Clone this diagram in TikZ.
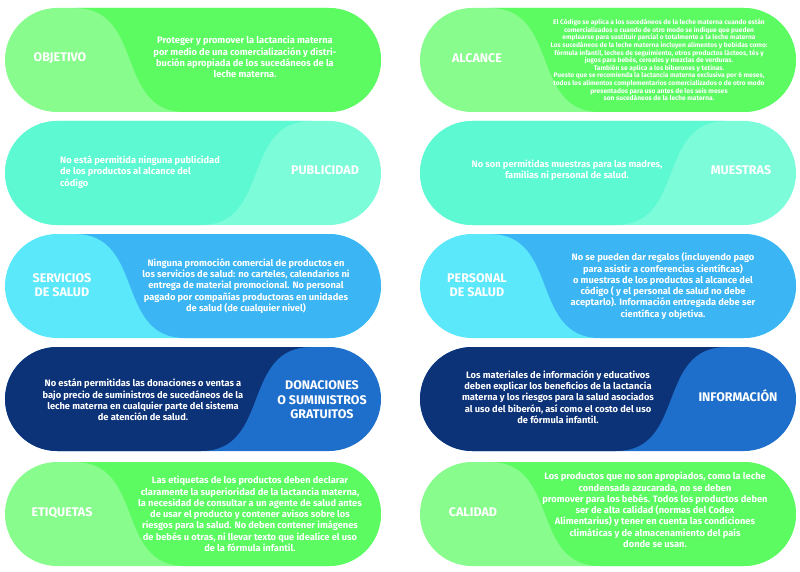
\documentclass[tikz,border=0pt]{standalone}
\usepackage{fontspec}
\setmainfont{Fira Sans}
\begin{document}
\begin{tikzpicture}[x=1pt,y=-1pt,
  lbl/.style={text=white,font=\fontsize{12.5}{14.5}\selectfont\bfseries,align=center},
  body/.style={text=white,font=\fontsize{9.3}{11.3}\selectfont\bfseries,align=center},
  tiny/.style={text=white,font=\fontsize{6.6}{7.6}\selectfont\bfseries,align=center}]
\useasboundingbox (0,0) rectangle (800,572);
\def\pillL#1#2#3#4{%
  \fill[#3,rounded corners=52pt] (#1,#2) rectangle ++(376,104);
  \fill[#4] (#1+70,#2) .. controls (#1+140,#2) and (#1+110,#2+104) .. (#1+180,#2+104)
     -- (#1+324,#2+104) arc[start angle=90,end angle=-90,radius=52] -- cycle;}
\def\pillR#1#2#3#4{%
  \fill[#3,rounded corners=52pt] (#1,#2) rectangle ++(376,104);
  \fill[#4] (#1+306,#2) .. controls (#1+236,#2) and (#1+266,#2+104) .. (#1+196,#2+104)
     -- (#1+52,#2+104) arc[start angle=90,end angle=270,radius=52] -- cycle;}
\definecolor{gL}{HTML}{88FC8C}\definecolor{gD}{HTML}{5CFB62}
\definecolor{tL}{HTML}{7DFCDA}\definecolor{tD}{HTML}{5DF9D2}
\definecolor{bL}{HTML}{5BE8FA}\definecolor{bD}{HTML}{3BB5F3}
\definecolor{nL}{HTML}{1E6FCB}\definecolor{nD}{HTML}{0C3277}
% row 1
\pillL{5}{8}{gL}{gD}
\pillL{420}{8}{gL}{gD}
\node[lbl] (l1) at (60,58) {OBJETIVO};
\node[body] (b1) at (245,57) {Proteger y promover la lactancia materna\\por medio de una comercialización y distri-\\bución apropiada de los sucedáneos de la\\leche materna.};
\node[lbl] (l2) at (477,58) {ALCANCE};
\node[tiny] (b2) at (659,60) {El Código se aplica a los sucedáneos de la leche materna cuando están\\comercializados o cuando de otro modo se indique que pueden\\emplearse para sustituir parcial o totalmente a la leche materna\\Los sucedáneos de la leche materna incluyen alimentos y bebidas como:\\fórmula infantil,  leches de seguimiento, otros productos lácteos, tés y\\jugos para bebés, cereales y mezclas de verduras.\\También se aplica a los biberones y tetinas.\\Puesto que se recomienda la lactancia materna exclusiva por 6 meses,\\todos los alimentos complementarios comercializados o de otro modo\\presentados para uso antes de los seis meses\\son sucedáneos de la leche materna.};
% row 2
\pillR{5}{121}{tL}{tD}
\pillR{420}{121}{tL}{tD}
\node[lbl] (l3) at (325,170) {PUBLICIDAD};
\node[body,align=left] (b3) at (140,172) {No está permitida ninguna publicidad\\de los productos al alcance del\\código};
\node[lbl] (l4) at (741,170) {MUESTRAS};
\node[body] (b4) at (567,170) {No son permitidas muestras para las madres,\\familias ni personal de salud.};
% row 3
\pillL{5}{234}{bL}{bD}
\pillL{420}{234}{bL}{bD}
\node[lbl] (l5) at (62,285) {SERVICIOS\\DE SALUD};
\node[body] (b5) at (246,286) {Ninguna promoción comercial de productos en\\los servicios de salud: no carteles, calendarios ni\\entrega de material promocional. No personal\\pagado por compañías productoras en unidades\\de salud (de cualquier nivel)};
\node[lbl] (l6) at (477,285) {PERSONAL\\DE SALUD};
\node[body] (b6) at (663,286) {No se pueden dar regalos (incluyendo pago\\para asistir a conferencias científicas)\\o muestras de los productos al alcance del\\código ( y el personal de salud no debe\\aceptarlo). Información entregada debe ser\\científica y objetiva.};
% row 4
\pillR{5}{347}{nL}{nD}
\pillR{420}{347}{nL}{nD}
\node[lbl] (l7) at (322,400) {DONACIONES\\O SUMINISTROS\\GRATUITOS};
\node[body] (b7) at (143,400) {No están permitidas las donaciones o ventas a\\bajo precio de suministros de sucedáneos de la\\leche materna en cualquier parte del sistema\\de atención de salud.};
\node[lbl] (l8) at (738,396) {INFORMACIÓN};
\node[body] (b8) at (558,397) {Los materiales de información y educativos\\deben explicar los beneficios de la lactancia\\materna y los riesgos para la salud asociados\\al uso del biberón, así como el costo del uso\\de fórmula infantil.};
% row 5
\pillL{5}{462}{gL}{gD}
\pillL{420}{462}{gL}{gD}
\node[lbl] (l9) at (62,513) {ETIQUETAS};
\node[body] (b9) at (250,514) {Las etiquetas de los productos deben declarar\\claramente la superioridad de la lactancia materna,\\la necesidad de consultar a un agente de salud antes\\de usar el producto y contener avisos sobre los\\riesgos para la salud. No deben contener imágenes\\de bebés u otras, ni llevar texto que idealice el uso\\de la fórmula infantil.};
\node[lbl] (l10) at (473,512) {CALIDAD};
\node[body] (b10) at (655,510) {Los productos que no son apropiados, como la leche\\condensada azucarada, no se deben\\promover para los bebés. Todos los productos deben\\ser de alta calidad (normas del Codex\\Alimentarius) y tener en cuenta las condiciones\\climáticas y de almacenamiento del país\\donde se usan.};
\end{tikzpicture}
\end{document}
